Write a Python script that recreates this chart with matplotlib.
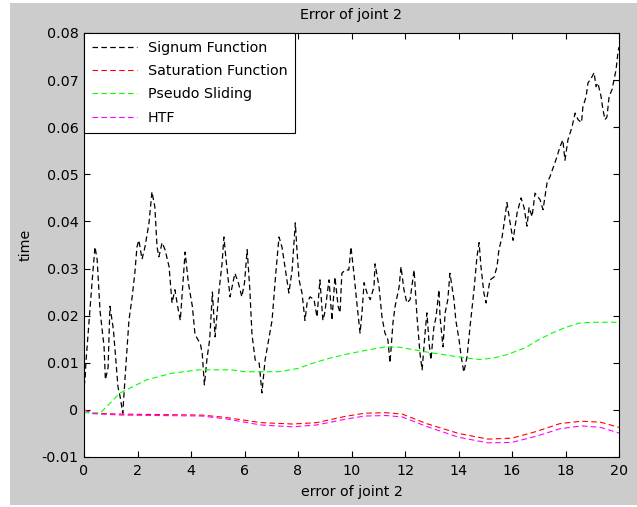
import matplotlib
matplotlib.use("Agg")
import matplotlib.pyplot as plt
from matplotlib.patches import Rectangle

plt.rcParams['font.family'] = ['DejaVu Sans']
fs = 10.3

# Signum Function (black)
sig_x = [0.0, 0.04, 0.07, 0.19, 0.3, 0.41, 0.49, 0.6, 0.75, 0.8,
         0.9, 0.97, 1.1, 1.17, 1.27, 1.35, 1.45, 1.53, 1.68, 1.8,
         1.9, 1.98, 2.05, 2.17, 2.28, 2.43, 2.54, 2.65, 2.73, 2.8,
         2.92, 3.03, 3.18, 3.29, 3.4, 3.5, 3.6, 3.78, 3.9, 4.05,
         4.15, 4.35, 4.42, 4.5, 4.6, 4.7, 4.8, 4.9, 5.05, 5.16,
         5.23, 5.3, 5.46, 5.64, 5.77, 5.9, 6.0, 6.1, 6.2, 6.28,
         6.4, 6.55, 6.65, 6.77, 6.92, 7.03, 7.1, 7.18, 7.29, 7.4,
         7.51, 7.66, 7.78, 7.9, 7.96, 8.04, 8.15, 8.26, 8.34, 8.45,
         8.6, 8.71, 8.82, 8.93, 9.0, 9.16, 9.27, 9.38, 9.5, 9.57,
         9.64, 9.76, 9.9, 9.98, 10.09, 10.2, 10.32, 10.4, 10.47, 10.58,
         10.7, 10.84, 10.88, 11.03, 11.14, 11.25, 11.36, 11.44, 11.55, 11.63,
         11.78, 11.85, 11.96, 12.07, 12.19, 12.34, 12.45, 12.56, 12.64, 12.75,
         12.82, 12.9, 12.97, 13.08, 13.16, 13.27, 13.31, 13.42, 13.5, 13.6,
         13.68, 13.83, 13.9, 14.02, 14.1, 14.2, 14.32, 14.43, 14.58, 14.69,
         14.77, 14.84, 14.95, 15.03, 15.18, 15.33, 15.44, 15.51, 15.63, 15.74,
         15.81, 15.93, 16.04, 16.19, 16.34, 16.45, 16.56, 16.64, 16.75, 16.86,
         17.05, 17.16, 17.31, 17.42, 17.53, 17.68, 17.79, 17.9, 17.98, 18.09,
         18.24, 18.36, 18.47, 18.6, 18.65, 18.77, 18.84, 18.99, 19.07, 19.14,
         19.21, 19.33, 19.4, 19.48, 19.55, 19.63, 19.74, 19.81, 19.89, 19.96,
         20.0]
sig_y = [0.005, 0.0064, 0.010, 0.019, 0.027, 0.0346, 0.032, 0.021, 0.0134, 0.0064,
         0.009, 0.022, 0.017, 0.012, 0.0049, 0.0028, -0.0007, 0.0064, 0.019, 0.024,
         0.029, 0.0346, 0.036, 0.032, 0.0346, 0.0397, 0.0463, 0.043, 0.0346, 0.0325,
         0.0355, 0.034, 0.0304, 0.0227, 0.0255, 0.022, 0.019, 0.0335, 0.027, 0.022,
         0.016, 0.014, 0.012, 0.0053, 0.011, 0.015, 0.025, 0.0155, 0.0255, 0.031,
         0.0367, 0.0325, 0.024, 0.029, 0.027, 0.024, 0.027, 0.034, 0.0255, 0.016,
         0.0106, 0.0099, 0.0036, 0.0106, 0.0155, 0.019, 0.024, 0.0297, 0.0367, 0.0346,
         0.0304, 0.0248, 0.0297, 0.0397, 0.034, 0.0276, 0.0248, 0.019, 0.0227, 0.024,
         0.0234, 0.0197, 0.0276, 0.019, 0.0206, 0.0276, 0.019, 0.0282, 0.022, 0.0206,
         0.029, 0.0297, 0.0297, 0.0346, 0.029, 0.0227, 0.0163, 0.0212, 0.027, 0.0248,
         0.0234, 0.0261, 0.031, 0.0261, 0.0197, 0.0163, 0.0149, 0.010, 0.0185, 0.022,
         0.0261, 0.0304, 0.0255, 0.0227, 0.0234, 0.0297, 0.0197, 0.012, 0.0085, 0.0163,
         0.0206, 0.0142, 0.0106, 0.0176, 0.0197, 0.0255, 0.0197, 0.0134, 0.0206, 0.0234,
         0.029, 0.0234, 0.019, 0.0149, 0.0113, 0.008, 0.0113, 0.0176, 0.0255, 0.0325,
         0.0355, 0.0304, 0.0248, 0.0227, 0.0276, 0.0282, 0.0304, 0.034, 0.0367, 0.041,
         0.044, 0.0397, 0.036, 0.0418, 0.045, 0.043, 0.039, 0.043, 0.041, 0.046,
         0.0446, 0.0425, 0.0482, 0.0495, 0.0513, 0.0537, 0.0558, 0.0573, 0.053, 0.0573,
         0.060, 0.063, 0.0616, 0.061, 0.0643, 0.0665, 0.0694, 0.0707, 0.0716, 0.0686,
         0.0694, 0.0665, 0.0637, 0.0616, 0.0622, 0.0665, 0.068, 0.070, 0.0722, 0.0758,
         0.077]

# Saturation Function (red) and HTF (magenta)
sat_x = [0.0, 0.33, 1.4, 4.4, 5.3, 6.6, 7.8, 8.7, 9.75, 10.5, 11.3, 11.9,
         12.8, 14.0, 15.1, 16.0, 16.9, 17.8, 18.6, 19.3, 20.0]
sat_y = [0.0, -0.0007, -0.0009, -0.0011, -0.0016, -0.0027, -0.003, -0.0027,
         -0.0014, -0.0007, -0.0006, -0.0009, -0.0029, -0.005, -0.0062, -0.006,
         -0.0046, -0.0029, -0.0024, -0.0026, -0.0037]
htf_y = [0.0, -0.0008, -0.0011, -0.0013, -0.0019, -0.0032, -0.0036, -0.0032,
         -0.002, -0.0013, -0.0012, -0.0015, -0.0035, -0.0058, -0.007, -0.0069,
         -0.0056, -0.004, -0.0034, -0.0037, -0.0049]

# Pseudo Sliding (green)
ps_x = [0.0, 0.6, 0.9, 1.35, 2.35, 3.3, 4.3, 5.5, 6.0, 7.3, 8.0, 8.6, 9.2, 9.8,
        10.5, 11.3, 11.8, 12.3, 13.0, 13.7, 14.3, 14.8, 15.3, 15.8, 16.5, 17.0,
        17.5, 18.0, 18.5, 19.0, 20.0]
ps_y = [-0.0006, -0.0007, 0.001, 0.0036, 0.0064, 0.0078, 0.0085, 0.0085, 0.0081,
        0.0081, 0.0088, 0.0100, 0.011, 0.0118, 0.0126, 0.0134, 0.0133, 0.0128,
        0.0121, 0.0115, 0.011, 0.0107, 0.011, 0.0117, 0.0132, 0.0149, 0.0163,
        0.0175, 0.0184, 0.0186, 0.0186]

W, H = 637, 507
fig = plt.figure(figsize=(W / 100, H / 100), dpi=100, facecolor='white')
bg = Rectangle((10 / W, 2 / H), 1 - 10 / W, 1 - 5 / H,
               transform=fig.transFigure, facecolor='#cccccc',
               edgecolor='none', zorder=-10)
fig.add_artist(bg)

ax = fig.add_axes([84 / W, 1 - 457 / H, 535 / W, 424 / H])
ax.set_zorder(5)
ax.set_facecolor('white')

dash = (0, (5, 3))
lw = 0.8
ax.plot(sig_x, sig_y, color='black', lw=0.9, linestyle=(0, (4.4, 2.7)), label='Signum Function')
ax.plot(sat_x, sat_y, color='#ff0000', lw=lw, linestyle=dash, label='Saturation Function')
ax.plot(ps_x, ps_y, color='#00ff00', lw=lw, linestyle=dash, label='Pseudo Sliding')
ax.plot(sat_x, htf_y, color='#ff00ff', lw=lw, linestyle=dash, label='HTF')

ax.set_xlim(0, 20)
ax.set_ylim(-0.01, 0.08)
ax.set_xticks(range(0, 21, 2))
ax.set_yticks([-0.01, 0, 0.01, 0.02, 0.03, 0.04, 0.05, 0.06, 0.07, 0.08])
ax.set_yticklabels(['-0.01', '0', '0.01', '0.02', '0.03', '0.04', '0.05',
                    '0.06', '0.07', '0.08'])
ax.tick_params(direction='in', length=4, width=0.8, top=True, right=True,
               labelsize=fs)
ax.tick_params(axis='x', pad=5)
ax.tick_params(axis='y', pad=4)
for s in ax.spines.values():
    s.set_linewidth(0.8)

ax.set_title('Error of joint 2', fontsize=fs, pad=10)
ax.set_xlabel('error of joint 2', fontsize=fs, labelpad=5)
ax.set_ylabel('time', fontsize=fs, labelpad=6)

leg = ax.legend(loc='upper left', bbox_to_anchor=(0, 1), borderaxespad=0,
                fancybox=False, edgecolor='black', framealpha=1,
                handlelength=3.15, handletextpad=0.75, labelspacing=0.65,
                borderpad=0.55, fontsize=fs)
leg.get_frame().set_linewidth(0.8)

fig.savefig('out.png', dpi=100, facecolor=fig.get_facecolor())
